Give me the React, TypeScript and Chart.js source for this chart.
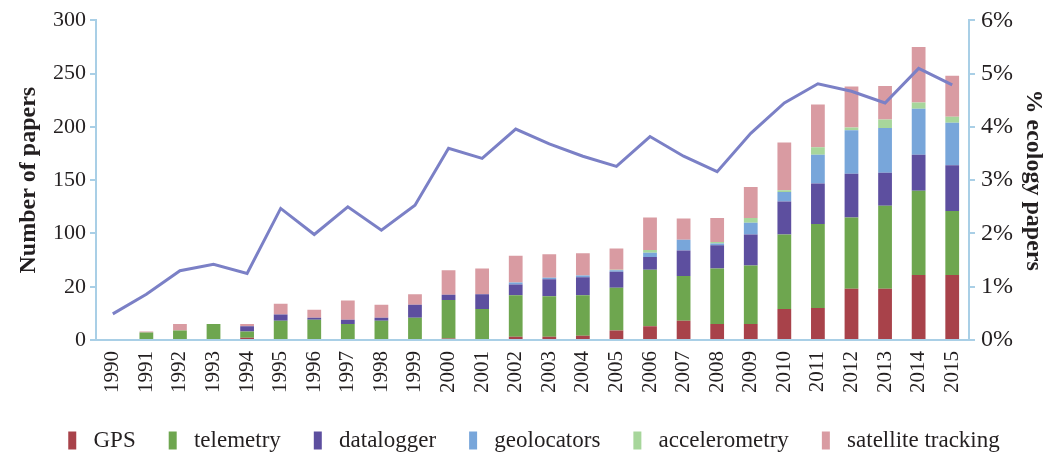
import React, { useEffect, useRef } from "react";
import { Chart, registerables } from "chart.js";

Chart.register(...registerables);

const years = ["1990","1991","1992","1993","1994","1995","1996","1997","1998","1999","2000","2001","2002","2003","2004","2005","2006","2007","2008","2009","2010","2011","2012","2013","2014","2015"];
const gps =        [0, 0, 0, 0, 2, 0, 0, 0, 0, 1, 1.5, 0, 3, 3, 4, 9, 13, 18, 15, 15, 29, 30, 48, 48, 61, 61];
const telemetry =  [0, 7, 9, 15, 6, 18, 19, 15, 18, 20, 36, 29, 39, 38, 38, 40, 53, 42, 52, 55, 70, 79, 67, 78, 79, 60];
const datalogger = [0, 0, 0, 0, 5, 6, 2, 4, 3, 12, 5, 14, 10, 16, 17, 15, 12, 24, 22, 29, 31, 38, 41, 31, 34, 43];
const geolocators =[0, 0, 0, 0, 0, 0, 0, 0, 0, 0, 0, 0, 2, 1.5, 1.5, 1.5, 4, 10, 1.5, 11, 9, 27, 41, 42, 43, 40];
const accelerometry=[0, 0, 0, 0, 0, 0, 0, 0, 0, 0, 0, 0, 0, 0, 0, 0.5, 2.5, 0, 1.5, 4.5, 1.5, 7, 2.5, 8, 6, 5.5];
const satellite =  [1, 1, 6, 0, 2, 10, 7.5, 18, 12, 10, 23, 24, 25, 22, 21, 20, 30.5, 20, 22.5, 29, 45, 40, 38.5, 31.5, 52, 38.5];
const ecologyPct = [0.49, 0.86, 1.30, 1.42, 1.25, 2.47, 1.98, 2.50, 2.06, 2.53, 3.60, 3.41, 3.96, 3.68, 3.45, 3.26, 3.82, 3.45, 3.16, 3.88, 4.45, 4.81, 4.67, 4.45, 5.10, 4.79];
const leftTickLabels = ["0", "20", "100", "150", "200", "250", "300"];
const rightTickLabels = ["0%", "1%", "2%", "3%", "4%", "5%", "6%"];

const axisBlue = "#a9cfe6";
const textColor = "#231f20";
const serif = "'Liberation Serif', 'DejaVu Serif', serif";

export default function App() {
  const ref = useRef<HTMLCanvasElement | null>(null);
  useEffect(() => {
    document.body.style.margin = "0";
    const ctx = ref.current!;
    const barDs = (label: string, data: number[], color: string) => ({
      type: "bar" as const,
      label,
      data,
      backgroundColor: color,
      borderWidth: 0,
      stack: "s",
      yAxisID: "y",
      order: 1,
      categoryPercentage: 1,
      barPercentage: 0.41,
    });
    const chart = new Chart(ctx, {
      type: "bar",
      data: {
        labels: years,
        datasets: [
          barDs("GPS", gps, "#a8424a"),
          barDs("telemetry", telemetry, "#6ea64f"),
          barDs("datalogger", datalogger, "#5d4f9f"),
          barDs("geolocators", geolocators, "#78a6da"),
          barDs("accelerometry", accelerometry, "#a7d69b"),
          barDs("satellite tracking", satellite, "#d99ba2"),
          {
            type: "line" as const,
            label: "% ecology papers",
            data: ecologyPct,
            borderColor: "#7b80c6",
            borderWidth: 3,
            pointRadius: 0,
            tension: 0,
            fill: false,
            yAxisID: "y1",
            order: 0,
          } as any,
        ],
      },
      options: {
        animation: false,
        responsive: false,
        maintainAspectRatio: false,
        layout: { padding: { top: 6, left: 14, right: 0, bottom: -8 } },
        plugins: {
          tooltip: { enabled: false },
          legend: {
            position: "bottom",
            labels: {
              filter: (item: any) => item.datasetIndex < 6,
              generateLabels: (ch: any) =>
                Chart.defaults.plugins.legend.labels.generateLabels(ch).map((l: any) => ({ ...l, text: " " + l.text })),
              boxWidth: 8,
              boxHeight: 18,
              padding: 33,
              color: textColor,
              font: { family: serif, size: 23 },
            },
          },
        },
        scales: {
          x: {
            stacked: true,
            offset: true,
            grid: { display: false },
            border: { display: true, color: axisBlue, width: 2 },
            ticks: {
              minRotation: 90,
              maxRotation: 90,
              autoSkip: false,
              color: textColor,
              padding: 3,
              font: { family: serif, size: 21 },
            },
          },
          y: {
            stacked: true,
            position: "left",
            min: 0,
            max: 300,
            afterFit: (s: any) => { s.width = 82; },
            grid: { drawOnChartArea: false, drawTicks: true, tickLength: 6, color: axisBlue, lineWidth: 2 },
            border: { display: true, color: axisBlue, width: 2 },
            ticks: {
              stepSize: 50,
              color: textColor,
              padding: 4,
              font: { family: serif, size: 22 },
              callback: (v: any) => leftTickLabels[Math.round(Number(v) / 50)],
            },
            title: {
              display: true,
              text: "Number of papers",
              color: textColor,
              padding: { top: 0, bottom: 4 },
              font: { family: serif, size: 24, weight: "bold" },
            },
          },
          y1: {
            position: "right",
            min: 0,
            max: 6,
            afterFit: (s: any) => { s.width = 85; },
            grid: { drawOnChartArea: false, drawTicks: true, tickLength: 6, color: axisBlue, lineWidth: 2 },
            border: { display: true, color: axisBlue, width: 2 },
            ticks: {
              stepSize: 1,
              color: textColor,
              padding: 6,
              font: { family: serif, size: 24 },
              callback: (v: any) => rightTickLabels[Math.round(Number(v))],
            },
            title: {
              display: true,
              text: "% ecology papers",
              color: textColor,
              padding: { top: 6, bottom: 0 },
              font: { family: serif, size: 24, weight: "bold" },
            },
          },
        },
      },
    });
    return () => chart.destroy();
  }, []);
  return (
    <div style={{ width: 1054, height: 454 }}>
      <canvas ref={ref} width={1054} height={454} style={{ width: 1054, height: 454 }} />
    </div>
  );
}
